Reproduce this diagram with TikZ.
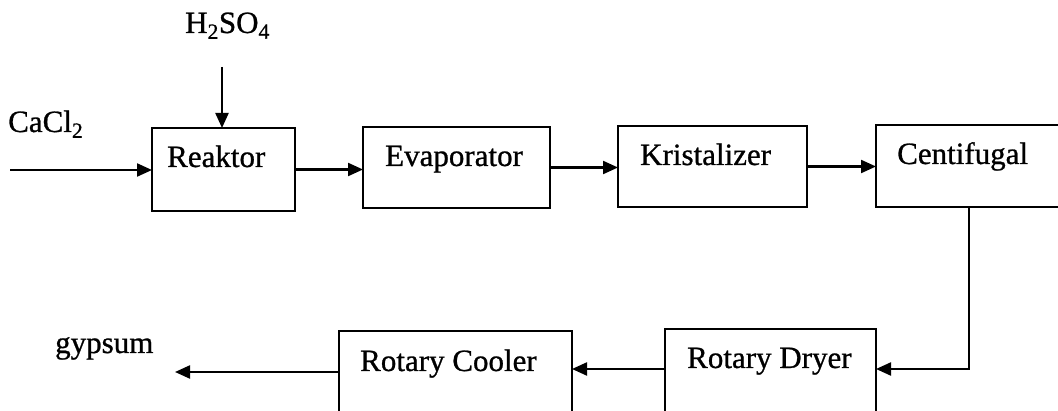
\documentclass[tikz,border=0pt]{standalone}
\usepackage{fontspec}
\setmainfont[FakeBold=0.8]{Liberation Serif}
\usetikzlibrary{arrows.meta}
\begin{document}
\begin{tikzpicture}[x=1pt,y=-1pt,
  box/.style={draw, line width=2.2pt, anchor=north west, inner sep=0pt, outer sep=0pt},
  lbl/.style={anchor=base west, inner sep=0pt, font=\fontsize{31}{36}\selectfont},
  arr/.style={line width=2.2pt, -{Triangle[length=15pt,width=13pt]}}]
\clip (0,0) rectangle (1058,411);
\fill[white] (0,0) rectangle (1058,411);
% boxes
\node[box, minimum width=143pt, minimum height=83pt] (reaktor) at (152,128) {};
\node[box, minimum width=187pt, minimum height=81pt] (evap) at (363,127) {};
\node[box, minimum width=189pt, minimum height=81pt] (krist) at (618,126) {};
\node[box, minimum width=200pt, minimum height=82pt] (centi) at (876,125) {};
\node[box, minimum width=211pt, minimum height=100pt] (dryer) at (665,329) {};
\node[box, minimum width=233pt, minimum height=100pt] (cooler) at (339,331) {};
% texts
\node[lbl] (reaktorT) at (167,167) {Reaktor};
\node[lbl] (evapT) at (385,166) {Evaporator};
\node[lbl] (kristT) at (640,165) {Kristalizer};
\node[lbl] (centiT) at (897,164) {Centifugal};
\node[lbl] (dryerT) at (687,368) {Rotary Dryer};
\node[lbl] (coolerT) at (360,371) {Rotary Cooler};
\node[lbl] (h2so4) at (185,33) {H\textsubscript{2}SO\textsubscript{4}};
\node[lbl] (cacl2) at (8,132) {CaCl\textsubscript{2}};
\node[lbl] (gypsum) at (55,353) {gypsum};
% coordinates
\coordinate (h2top) at (222,67);
\coordinate (castart) at (10,170);
\coordinate (turn) at (969,369);
\coordinate (gyp) at (175,372);
% connectors
\draw[arr] (h2top) -- (h2top |- reaktor.north);
\draw[arr] (castart) -- (castart -| reaktor.west);
\draw[arr] (reaktor.east) -- (reaktor.east -| evap.west);
\draw[arr] (evap.east) -- (evap.east -| krist.west);
\draw[arr] (krist.east) -- (krist.east -| centi.west);
\draw[arr] (centi.south -| turn) -- (turn) -- (dryer.east |- turn);
\draw[arr] (dryer.west |- turn) -- (cooler.east |- turn);
\draw[arr] (cooler.west |- gyp) -- (gyp);
\end{tikzpicture}
\end{document}
